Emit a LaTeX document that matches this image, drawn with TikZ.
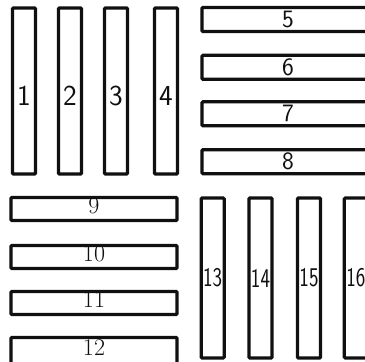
\documentclass[tikz,border=0pt]{standalone}
\usepackage{fontspec}
\usepackage{xcolor}
\usetikzlibrary{positioning}
\definecolor{inkdark}{RGB}{16,16,16}

\begin{document}
\begin{tikzpicture}[
  x=1pt, y=-1pt,
  bar/.style={draw=inkdark, line width=3.2pt, rounded corners=1pt,
              inner sep=0pt, fill=white},
  vbar/.style={bar, minimum width=23pt, minimum height=166pt},
  hbar/.style={bar, minimum width=172pt, minimum height=24pt},
  lbar/.style={bar, minimum width=166pt, minimum height=23pt},
  tbar/.style={bar, minimum width=23pt, minimum height=160pt},
  numlbl/.style={font=\fontsize{29}{29}\selectfont\sffamily, text=inkdark,
                 inner sep=0pt, yshift=-5pt},
  hlbl/.style={font=\fontsize{25}{25}\selectfont\sffamily, text=inkdark,
               inner sep=0pt},
  slbl/.style={font=\fontsize{24}{24}\selectfont\rmfamily, text=inkdark,
               inner sep=0pt, yshift=3pt},
  nlbl/.style={font=\fontsize{27}{27}\selectfont\sffamily, text=inkdark,
               inner sep=0pt, xscale=0.75},
]
\useasboundingbox (0,0) rectangle (365,362);
\fill[white] (0,0) rectangle (365,362);
\clip (0,0) rectangle (365,362);

%% ── TOP LEFT: upright bars ────────────────────────────────────────────
\node[vbar, label={[numlbl]center:1}] (bar1) at ( 24, 91) {};
\node[vbar, label={[numlbl]center:2}] (bar2) at ( 70, 91) {};
\node[vbar, label={[numlbl]center:3}] (bar3) at (116, 91) {};
\node[vbar, label={[numlbl]center:4}] (bar4) at (166, 91) {};

%% ── TOP RIGHT: lying bars ─────────────────────────────────────────────
\node[hbar, label={[hlbl]center:5}] (bar5) at (288, 19.5) {};
\node[hbar, label={[hlbl]center:6}] (bar6) at (288, 67.3) {};
\node[hbar, label={[hlbl]center:7}] (bar7) at (288,113.8) {};
\node[hbar, label={[hlbl]center:8}] (bar8) at (288,161.7) {};

%% ── BOTTOM LEFT: lying bars ───────────────────────────────────────────
\node[lbar, label={[slbl]center:9}]  (bar9)  at (94,209) {};
\node[lbar, label={[slbl]center:10}] (bar10) at (94,257) {};
\node[lbar, label={[slbl]center:11}] (bar11) at (94,303) {};
\node[lbar, minimum height=27pt,
      label={[slbl]center:12}]       (bar12) at (94,351) {};

%% ── BOTTOM RIGHT: upright bars ────────────────────────────────────────
\node[tbar, label={[nlbl]center:13}] (bar13) at (212.7,278) {};
\node[tbar, label={[nlbl]center:14}] (bar14) at (260.5,278) {};
\node[tbar, label={[nlbl]center:15}] (bar15) at (309.0,278) {};
\node[tbar, label={[nlbl]center:16}] (bar16) at (355.8,278) {};

\end{tikzpicture}
\end{document}
